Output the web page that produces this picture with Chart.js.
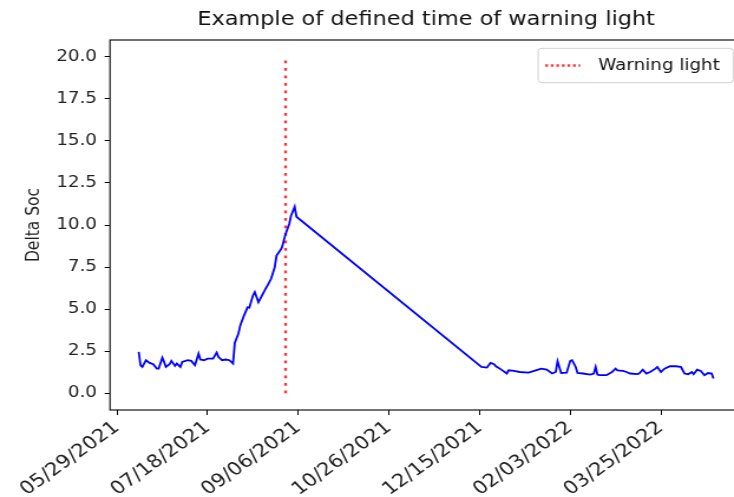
<!DOCTYPE html>
<html>
<head>
<meta charset="utf-8">
<script src="https://cdn.jsdelivr.net/npm/chart.js@4/dist/chart.umd.min.js"></script>
<style>
  html, body { margin: 0; padding: 0; overflow: hidden; background: #fff; }
  #wrap { width: 734px; height: 497px; overflow: hidden; }
  #chart { transform: scaleX(1.18); transform-origin: 0 0; }
</style>
</head>
<body>
<div id="wrap"><canvas id="chart" width="636" height="497"></canvas></div>
<script>
// readings: day offset from the first reading, delta SoC per reading
const firstReading = '2021-06-10'
const dayOffsets = [
    0, 1, 2, 4, 6, 8, 10, 11, 13, 14, 15, 17, 18, 20, 21, 23, 24, 27, 29, 31,
    33, 34, 36, 38, 41, 43, 44, 46, 48, 50, 52, 53, 55, 56, 58, 60, 61, 63, 64, 66,
    67, 70, 71, 73, 75, 76, 78, 79, 81, 83, 84, 86, 87,
    189, 192, 194, 196, 197, 200, 203, 204, 207, 210, 215, 219, 222, 225, 228, 230, 231,
    233, 236, 238, 239, 241, 242, 245, 249, 251, 252, 253, 254, 258, 261, 263, 264, 267,
    269, 271, 275, 276, 278, 280, 282, 285, 286, 288, 290, 293, 296, 299, 301, 303, 305,
    306, 308, 310, 312, 314, 316, 317
]
const deltaSoc = [
    2.45, 1.66, 1.56, 1.96, 1.80, 1.72, 1.46, 1.46, 2.11, 1.86, 1.56, 1.72, 1.92, 1.62, 1.76, 1.56, 1.86, 1.96, 1.92, 1.66,
    2.35, 2.00, 1.96, 2.05, 2.05, 2.41, 2.15, 1.96, 2.00, 1.96, 1.76, 3.00, 3.55, 4.03, 4.60, 5.10, 5.08, 5.81, 6.01, 5.41,
    5.61, 6.21, 6.40, 6.80, 7.49, 8.18, 8.48, 8.67, 9.47, 10.06, 10.55, 11.08, 10.49,
    1.56, 1.52, 1.80, 1.72, 1.60, 1.40, 1.17, 1.36, 1.32, 1.26, 1.22, 1.36, 1.46, 1.40, 1.17, 1.26, 1.90,
    1.20, 1.22, 1.92, 1.96, 1.56, 1.20, 1.17, 1.11, 1.17, 1.56, 1.10, 1.07, 1.07, 1.26, 1.46, 1.36, 1.32,
    1.26, 1.17, 1.13, 1.17, 1.40, 1.17, 1.26, 1.46, 1.56, 1.26, 1.46, 1.60, 1.60, 1.56, 1.17, 1.13, 1.26,
    1.13, 1.40, 1.32, 1.07, 1.20, 1.17, 0.87
]

const warningDate = '2021-08-30'
const warningRange = [0, 20]

const tickDates = ['05/29/2021', '07/18/2021', '09/06/2021', '10/26/2021', '12/15/2021', '02/03/2022', '03/25/2022']
const yTicks = [0, 2.5, 5, 7.5, 10, 12.5, 15, 17.5, 20]

const font = 'DejaVu Sans'

const isoDay = s => {
    let [y, m, d] = s.split('-').map(Number)
    return Date.UTC(y, m - 1, d) / 86400000
}
const usDay = s => {
    let [m, d, y] = s.split('/').map(Number)
    return Date.UTC(y, m - 1, d) / 86400000
}

let start = isoDay(firstReading)
let points = dayOffsets.map((d, i) => ({ x: start + d, y: deltaSoc[i] }))
let warnX = isoDay(warningDate)
let tickDays = tickDates.map(usDay)

// 5% margin on each side of the data, like the default plot limits
let first = points[0].x
let last = points[points.length - 1].x
let pad = (last - first) * 0.05

// box round the plot area
const frame = {
    id: 'frame',
    afterDatasetsDraw(chart) {
        let { ctx, chartArea: a } = chart
        ctx.save()
        ctx.strokeStyle = '#000'
        ctx.lineWidth = 1.1
        ctx.strokeRect(a.left, a.top, a.right - a.left, a.bottom - a.top)
        ctx.restore()
    }
}

// legend box in the upper right corner of the plot
const legendBox = {
    id: 'legendBox',
    afterDraw(chart) {
        let ds = chart.data.datasets[1]
        let { ctx, chartArea: a } = chart
        let w = 165.3, h = 34.4
        let x = a.right - 7.6 - w
        let y = a.top + 8.3
        ctx.save()
        ctx.beginPath()
        if (ctx.roundRect) ctx.roundRect(x, y, w, h, 3)
        else ctx.rect(x, y, w, h)
        ctx.fillStyle = 'rgba(255,255,255,0.8)'
        ctx.fill()
        ctx.strokeStyle = '#d0d0d0'
        ctx.lineWidth = 1
        ctx.stroke()

        ctx.beginPath()
        ctx.setLineDash([2.3, 2.4])
        ctx.moveTo(x + 6, y + h / 2)
        ctx.lineTo(x + 35.6, y + h / 2)
        ctx.strokeStyle = ds.borderColor
        ctx.lineWidth = ds.borderWidth
        ctx.stroke()
        ctx.setLineDash([])

        ctx.fillStyle = '#111'
        ctx.font = `15.5px "${font}"`
        ctx.textBaseline = 'middle'
        ctx.fillText(ds.label, x + 50.9, y + h / 2 + 0.5)
        ctx.restore()
    }
}

let chart = new Chart(document.getElementById('chart').getContext('2d'), {
    type: 'line',
    data: {
        datasets: [{
            label: 'Delta Soc',
            data: points,
            borderColor: '#0000ff',
            borderWidth: 1.8,
            pointRadius: 0,
            tension: 0,
            fill: false
        }, {
            label: 'Warning light',
            data: warningRange.map(v => ({ x: warnX, y: v })),
            borderColor: 'rgba(255,0,0,0.8)',
            borderWidth: 2.4,
            borderDash: [2.7, 4.8],
            pointRadius: 0,
            fill: false
        }]
    },
    options: {
        responsive: false,
        animation: false,
        devicePixelRatio: 1,
        layout: { padding: { left: 0, right: 7, top: 0, bottom: 0 } },
        plugins: {
            legend: { display: false },
            tooltip: { enabled: false },
            title: {
                display: true,
                text: 'Example of defined time of warning light',
                fullSize: false,
                color: '#111',
                font: { family: font, size: 19, weight: 'normal' },
                padding: { top: 8.6, bottom: 8.6 }
            }
        },
        scales: {
            x: {
                type: 'linear',
                min: first - pad,
                max: last + pad,
                afterBuildTicks: s => { s.ticks = tickDays.map(v => ({ value: v })) },
                afterFit: s => { s.height = 87 },
                ticks: {
                    autoSkip: false,
                    minRotation: 40,
                    maxRotation: 40,
                    padding: 2,
                    color: '#222',
                    font: { family: font, size: 18 },
                    callback: (v, i) => tickDates[i]
                },
                grid: { drawOnChartArea: false, tickLength: 5, tickColor: '#000', tickWidth: 1 },
                border: { display: false }
            },
            y: {
                min: -1,
                max: 21,
                afterBuildTicks: s => { s.ticks = yTicks.map(v => ({ value: v })) },
                afterFit: s => { s.width = 93.2 },
                ticks: {
                    padding: 6.5,
                    color: '#222',
                    font: { family: font, size: 15.5 },
                    callback: v => v.toFixed(1)
                },
                grid: { drawOnChartArea: false, tickLength: 4.5, tickColor: '#000', tickWidth: 1 },
                border: { display: false },
                title: {
                    display: true,
                    text: 'Delta Soc',
                    color: '#222',
                    font: { family: font, size: 15.5 },
                    padding: { top: 19.5, bottom: 0 }
                }
            }
        }
    },
    plugins: [frame, legendBox]
})
</script>
</body>
</html>
